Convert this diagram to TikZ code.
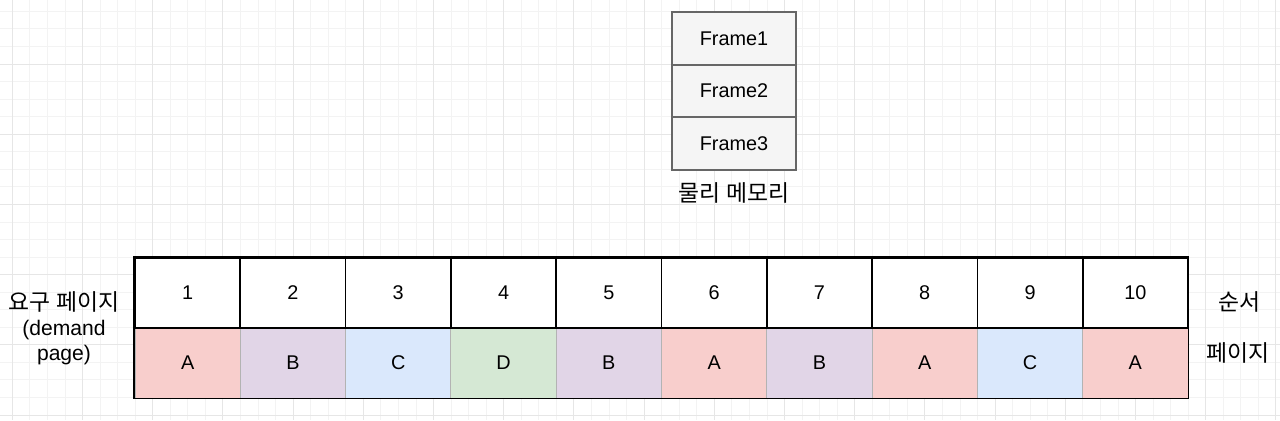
\documentclass[tikz,border=0pt]{standalone}
\usepackage{fontspec}
\setmainfont{Liberation Sans}
\newfontfamily\kr{Noto Sans CJK KR}
\usetikzlibrary{positioning}

\definecolor{gridMinor}{HTML}{F3F3F3}
\definecolor{gridMajor}{HTML}{E6E6E6}
\definecolor{frameFill}{HTML}{F5F5F5}
\definecolor{frameLine}{HTML}{666666}
\definecolor{cellLine}{HTML}{B3B3B3}
\definecolor{pageA}{HTML}{F8CECC}
\definecolor{pageB}{HTML}{E1D5E7}
\definecolor{pageC}{HTML}{DAE8FC}
\definecolor{pageD}{HTML}{D5E8D4}

\newcommand{\krtext}{\kr\fontsize{13}{14.3}\selectfont}

\tikzset{
  txt/.style={font=\fontsize{11.3}{14.3}\selectfont},
  frame/.style={txt, draw=frameLine, fill=frameFill, line width=0.9pt, outer sep=0pt,
    minimum width=2.48cm, minimum height=1.05cm, inner sep=0pt},
  order/.style={txt, draw=black, fill=white, line width=1pt,
    minimum width=2.106cm, minimum height=1.4cm, inner sep=0pt},
  page/.style={txt, draw=cellLine, line width=0.5pt,
    minimum width=2.106cm, minimum height=1.4cm, inner sep=0pt},
  label/.style={txt, align=center, inner sep=0pt},
}

\begin{document}
\begin{tikzpicture}[x=0.02cm, y=-0.02cm]
		%%%%% START %%%%%
		\useasboundingbox (0,0) rectangle (1280,420);
		\fill[white] (0,0) rectangle (1280,420);
		
		% background grid
		\foreach \i in {0,...,73}
			\draw[gridMinor, line width=0.5pt] ({-5.25+17.55*\i},0) -- ({-5.25+17.55*\i},420);
		\foreach \i in {0,...,24}
			\draw[gridMinor, line width=0.5pt] (0,{-6.2+17.55*\i}) -- (1280,{-6.2+17.55*\i});
		\foreach \i in {0,...,18}
			\draw[gridMajor, line width=0.5pt] ({12.3+70.2*\i},0) -- ({12.3+70.2*\i},420);
		\foreach \i in {1,...,6}
			\draw[gridMajor, line width=0.5pt] (0,{-6.2+70.2*\i}) -- (1280,{-6.2+70.2*\i});
		
		% physical memory
		\node[frame] (frame1) at (734, 38.5) {Frame1};
		\node[frame, below=0pt of frame1] (frame2) {Frame2};
		\node[frame, below=0pt of frame2] (frame3) {Frame3};
		\node[label] (memory) at (734, 193) {\krtext 물리 메모리};
		
		% reference string
		\foreach \i/\p/\c in {1/A/pageA, 2/B/pageB, 3/C/pageC, 4/D/pageD, 5/B/pageB,
			6/A/pageA, 7/B/pageB, 8/A/pageA, 9/C/pageC, 10/A/pageA}
			\node[page, fill=\c] (p\i) at ({135+105.3*\i-52.65}, 363) {\p};
		\foreach \i in {1,...,10}
			\node[order] (n\i) at ({135+105.3*\i-52.65}, 293) {\i};
		\draw[line width=1pt] (n1.north west) rectangle (p10.south east);
		
		\node[label, font=\fontsize{12}{14.3}\selectfont] (demand) at (64, 328)
			{{\krtext 요구 페이지}\\(demand\\page)};
		\node[label] (orderlabel) at (1239, 302) {\krtext 순서};
		\node[label] (pagelabel) at (1238, 353) {\krtext 페이지};
		
		%%%%% END %%%%%
\end{tikzpicture}
\end{document}
